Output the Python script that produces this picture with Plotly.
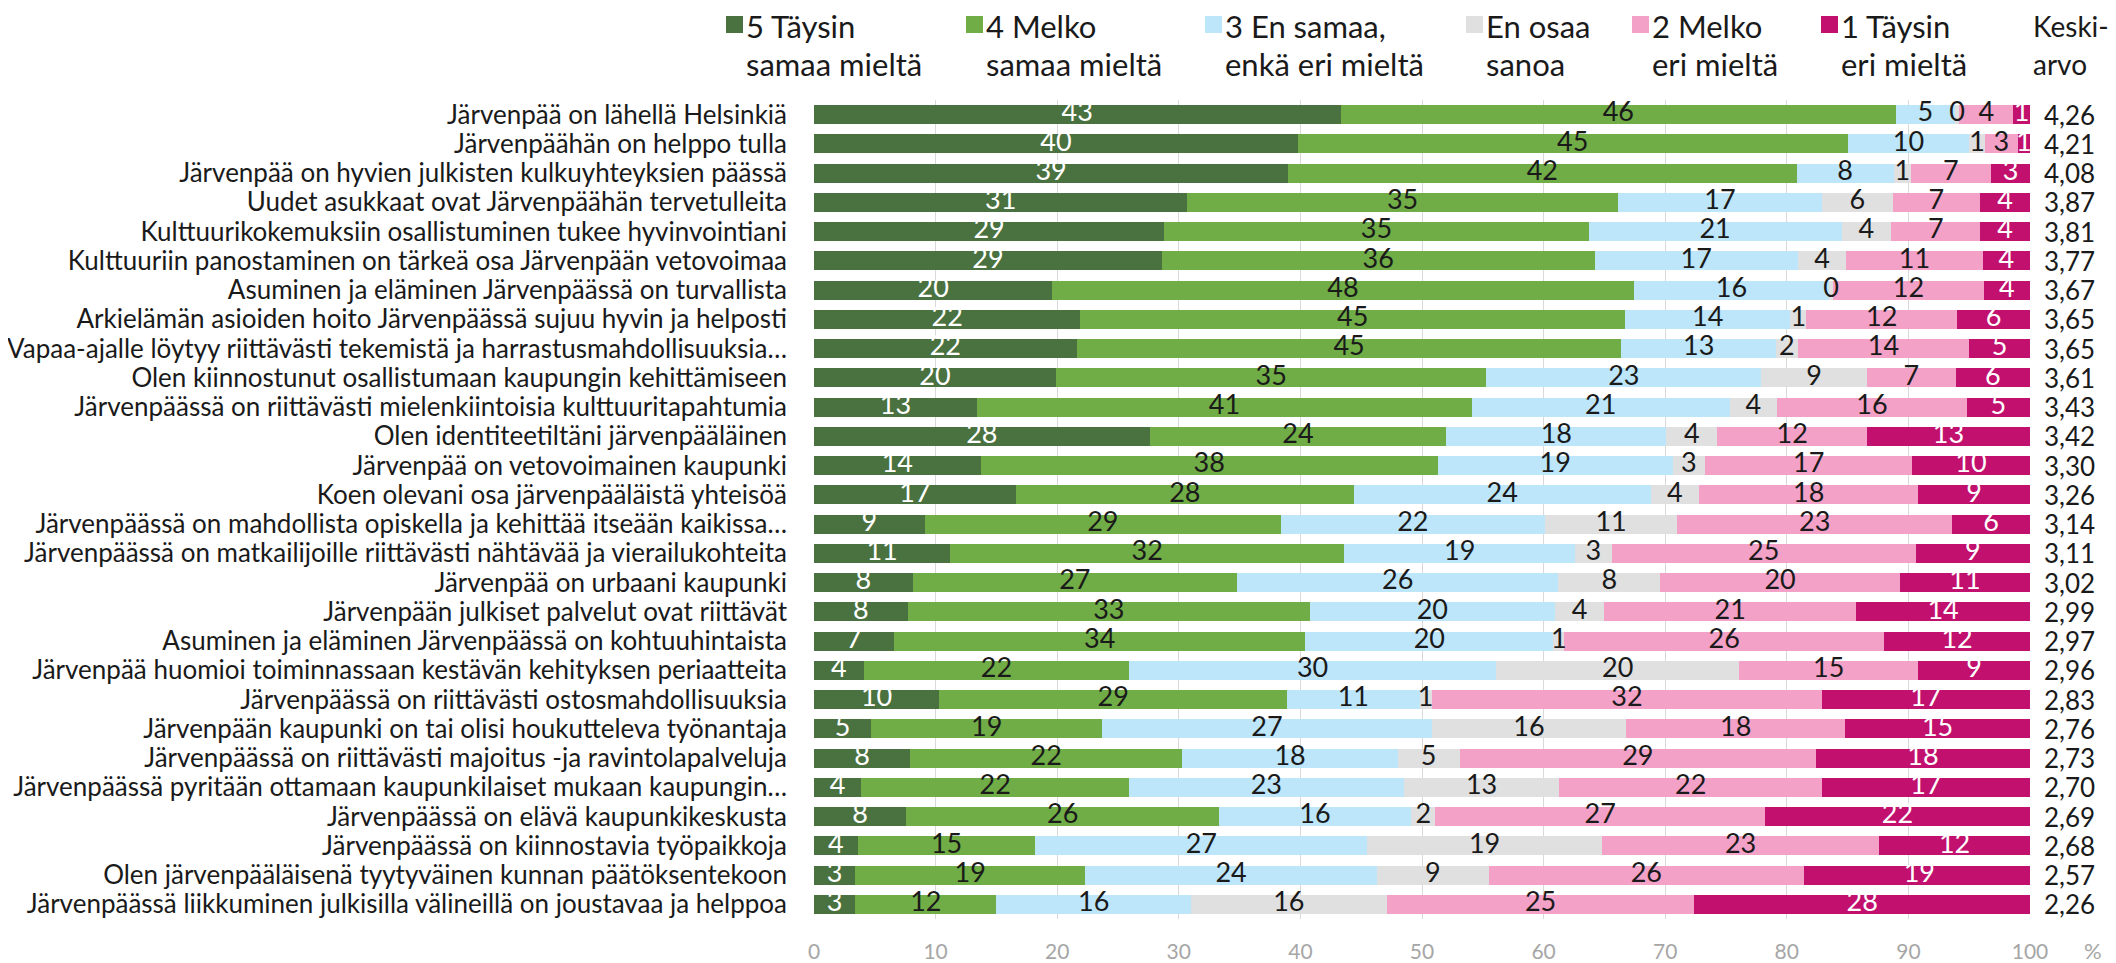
import plotly.graph_objects as go

categories = [
    "Järvenpää on lähellä Helsinkiä",
    "Järvenpäähän on helppo tulla",
    "Järvenpää on hyvien julkisten kulkuyhteyksien päässä",
    "Uudet asukkaat ovat Järvenpäähän tervetulleita",
    "Kulttuurikokemuksiin osallistuminen tukee hyvinvointiani",
    "Kulttuuriin panostaminen on tärkeä osa Järvenpään vetovoimaa",
    "Asuminen ja eläminen Järvenpäässä on turvallista",
    "Arkielämän asioiden hoito Järvenpäässä sujuu hyvin ja helposti",
    "Vapaa-ajalle löytyy riittävästi tekemistä ja harrastusmahdollisuuksia…",
    "Olen kiinnostunut osallistumaan kaupungin kehittämiseen",
    "Järvenpäässä on riittävästi mielenkiintoisia kulttuuritapahtumia",
    "Olen identiteetiltäni järvenpääläinen",
    "Järvenpää on vetovoimainen kaupunki",
    "Koen olevani osa järvenpääläistä yhteisöä",
    "Järvenpäässä on mahdollista opiskella ja kehittää itseään kaikissa…",
    "Järvenpäässä on matkailijoille riittävästi nähtävää ja vierailukohteita",
    "Järvenpää on urbaani kaupunki",
    "Järvenpään julkiset palvelut ovat riittävät",
    "Asuminen ja eläminen Järvenpäässä on kohtuuhintaista",
    "Järvenpää huomioi toiminnassaan kestävän kehityksen periaatteita",
    "Järvenpäässä on riittävästi ostosmahdollisuuksia",
    "Järvenpään kaupunki on tai olisi houkutteleva työnantaja",
    "Järvenpäässä on riittävästi majoitus -ja ravintolapalveluja",
    "Järvenpäässä pyritään ottamaan kaupunkilaiset mukaan kaupungin…",
    "Järvenpäässä on elävä kaupunkikeskusta",
    "Järvenpäässä on kiinnostavia työpaikkoja",
    "Olen järvenpääläisenä tyytyväinen kunnan päätöksentekoon",
    "Järvenpäässä liikkuminen julkisilla välineillä on joustavaa ja helppoa",
]

# shares in %
taysin_samaa = [43.3, 39.8, 39.0, 30.7, 28.8, 28.6, 19.6, 21.9, 21.6, 19.9, 13.4, 27.6, 13.7, 16.6,
                9.1, 11.2, 8.1, 7.7, 6.6, 4.1, 10.3, 4.7, 7.9, 3.9, 7.6, 3.6, 3.4, 3.4]
melko_samaa = [45.7, 45.2, 41.8, 35.4, 34.9, 35.6, 47.8, 44.8, 44.8, 35.4, 40.7, 24.4, 37.6, 27.8,
               29.3, 32.4, 26.7, 33.1, 33.8, 21.8, 28.6, 19.0, 22.4, 22.0, 25.7, 14.6, 18.9, 11.6]
neutraali = [4.8, 10.0, 8.0, 16.8, 20.8, 16.7, 16.1, 13.6, 12.7, 22.6, 21.2, 18.1, 19.3, 24.4,
             21.7, 19.0, 26.4, 20.1, 20.4, 30.2, 10.9, 27.1, 17.7, 22.6, 15.8, 27.3, 24.0, 16.0]
en_osaa = [0.4, 1.3, 1.4, 5.8, 4.1, 4.0, 0.3, 1.3, 1.8, 8.7, 3.9, 4.2, 2.7, 4.0,
           10.9, 3.0, 8.4, 4.1, 0.9, 20.0, 1.0, 16.0, 5.1, 12.8, 2.0, 19.3, 9.2, 16.1]
melko_eri = [4.4, 2.7, 6.6, 7.2, 7.3, 11.2, 12.4, 12.4, 14.1, 7.3, 15.6, 12.3, 17.0, 18.0,
             22.6, 25.0, 19.7, 20.7, 26.3, 14.7, 32.1, 18.0, 29.3, 21.6, 27.1, 22.8, 25.9, 25.3]
taysin_eri = [1.4, 1.0, 3.2, 4.1, 4.1, 3.9, 3.8, 6.0, 5.0, 6.1, 5.2, 13.4, 9.7, 9.2,
              6.4, 9.4, 10.7, 14.3, 12.0, 9.2, 17.1, 15.2, 17.6, 17.1, 21.8, 12.4, 19.0, 27.6]

keskiarvo = [4.26, 4.21, 4.08, 3.87, 3.81, 3.77, 3.67, 3.65, 3.65, 3.61, 3.43, 3.42, 3.30, 3.26,
             3.14, 3.11, 3.02, 2.99, 2.97, 2.96, 2.83, 2.76, 2.73, 2.70, 2.69, 2.68, 2.57, 2.26]

series_names = ["5 Täysin<br>samaa mieltä", "4 Melko<br>samaa mieltä", "3 En samaa,<br>enkä eri mieltä",
                "En osaa<br>sanoa", "2 Melko<br>eri mieltä", "1 Täysin<br>eri mieltä"]
series_values = [taysin_samaa, melko_samaa, neutraali, en_osaa, melko_eri, taysin_eri]
colors = ["#4A7140", "#70AD47", "#BDE6FA", "#E0E0E0", "#F4A1C8", "#C1106E"]
text_colors = ["white", "#1A1A1A", "#1A1A1A", "#1A1A1A", "#1A1A1A", "white"]

FONT = "Lato, 'Open Sans', sans-serif"
# page has an 8px body margin, so the figure is kept 8px smaller than the window
W, H = 2108, 955
L, R, T, B = 806, 86, 92, 44
PW, PH = W - L - R, H - T - B


def px_x(p):
    # page pixel -> paper x
    return (p - 8 - L) / PW


def px_y(p):
    # page pixel -> paper y
    return (H - B - (p - 8)) / PH


fig = go.Figure()
for name, vals, col in zip(series_names, series_values, colors):
    fig.add_trace(go.Bar(
        y=categories, x=vals, orientation="h", name=name,
        marker=dict(color=col, line=dict(width=0)),
        showlegend=False, hoverinfo="x+name",
    ))

# value labels on top of all bars so narrow segments don't hide them
base = [0.0] * len(categories)
for vals, tc in zip(series_values, text_colors):
    mids = [b + v / 2 for b, v in zip(base, vals)]
    fig.add_trace(go.Scatter(
        y=categories, x=mids, mode="text",
        text=[f"{v:.0f}" for v in vals],
        textfont=dict(family=FONT, size=27, color=tc),
        showlegend=False, hoverinfo="skip", cliponaxis=False,
    ))
    base = [b + v for b, v in zip(base, vals)]

# mean column
for cat, m in zip(categories, keskiarvo):
    fig.add_annotation(x=px_x(2042), xref="paper", y=cat, yref="y", xanchor="left",
                       text=f"{m:.2f}".replace(".", ","), showarrow=False,
                       font=dict(family=FONT, size=26, color="#1A1A1A"))

# legend drawn by hand to get the two-line layout
leg_marker_x = [726, 966, 1205, 1466, 1632, 1821]
for name, col, mx in zip(series_names, colors, leg_marker_x):
    fig.add_shape(type="rect", xref="paper", yref="paper",
                  x0=px_x(mx), x1=px_x(mx + 17), y0=px_y(33), y1=px_y(16),
                  fillcolor=col, line=dict(width=0))
    line1, line2 = name.split("<br>")
    fig.add_annotation(x=px_x(mx + 18), y=px_y(26), xref="paper", yref="paper",
                       xanchor="left", yanchor="middle", text=line1, showarrow=False,
                       font=dict(family=FONT, size=31, color="#1A1A1A"))
    fig.add_annotation(x=px_x(mx + 18), y=px_y(64), xref="paper", yref="paper",
                       xanchor="left", yanchor="middle", text=line2, showarrow=False,
                       font=dict(family=FONT, size=31, color="#1A1A1A"))
fig.add_annotation(x=px_x(2031), y=px_y(26), xref="paper", yref="paper", xanchor="left",
                   yanchor="middle", text="Keski-", showarrow=False,
                   font=dict(family=FONT, size=28, color="#1A1A1A"))
fig.add_annotation(x=px_x(2031), y=px_y(64), xref="paper", yref="paper", xanchor="left",
                   yanchor="middle", text="arvo", showarrow=False,
                   font=dict(family=FONT, size=28, color="#1A1A1A"))

fig.add_annotation(x=px_x(2082), y=px_y(950), xref="paper", yref="paper", xanchor="left",
                   yanchor="middle", text="%", showarrow=False,
                   font=dict(family=FONT, size=22, color="#A6A6A6"))

fig.update_layout(
    width=W, height=H,
    barmode="stack", bargap=0.35,
    margin=dict(l=L, r=R, t=T, b=B, autoexpand=False),
    plot_bgcolor="white", paper_bgcolor="white",
    font=dict(family=FONT, color="#1A1A1A"),
)
fig.update_xaxes(range=[0, 100], dtick=10, showgrid=True, gridcolor="#D9D9D9", gridwidth=1,
                 zeroline=False, showline=False, ticks="outside", ticklen=14, automargin=False,
                 tickcolor="rgba(0,0,0,0)", tickfont=dict(family=FONT, size=21, color="#A6A6A6"))
fig.update_yaxes(range=[len(categories) - 0.5, -0.5], showgrid=False, zeroline=False,
                 showline=False, ticks="", ticklabelstandoff=26, automargin=False,
                 tickmode="array", tickvals=categories, ticktext=categories,
                 tickfont=dict(family=FONT, size=26, color="#1A1A1A"))

fig.write_html("out.html")
